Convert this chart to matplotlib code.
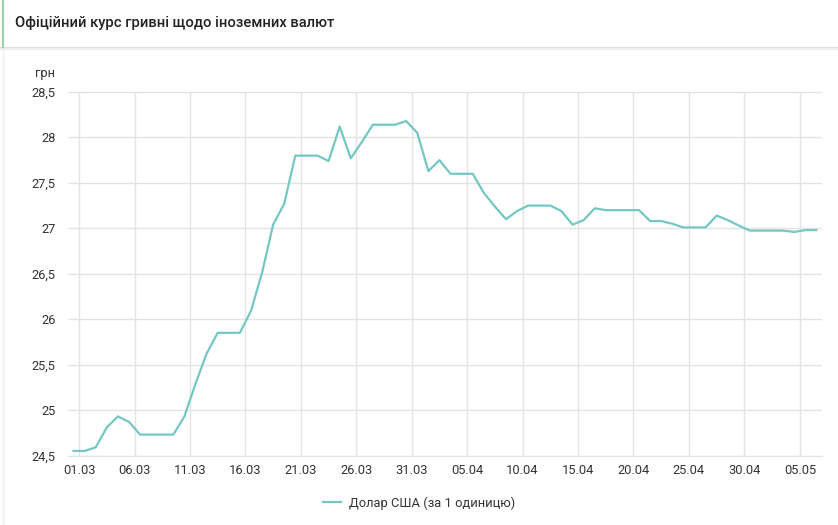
import matplotlib
matplotlib.use("Agg")
import matplotlib.pyplot as plt
from matplotlib.lines import Line2D
import pandas as pd

plt.rcParams['font.family'] = ['Roboto', 'DejaVu Sans']

title = "Офіційний курс гривні щодо іноземних валют"
unit_label = "грн"
series_name = "Долар США (за 1 одиницю)"

start_date = "2020-02-29"
usd_rate = [
    24.55, 24.55, 24.59, 24.81, 24.93, 24.87, 24.73, 24.73, 24.73, 24.73,
    24.93, 25.29, 25.62, 25.85, 25.85, 25.85, 26.09, 26.51, 27.04, 27.27,
    27.80, 27.80, 27.80, 27.74, 28.12, 27.77, 27.95, 28.14, 28.14, 28.14,
    28.18, 28.05, 27.63, 27.75, 27.60, 27.60, 27.60, 27.39, 27.24, 27.10,
    27.19, 27.25, 27.25, 27.25, 27.19, 27.04, 27.09, 27.22, 27.20, 27.20,
    27.20, 27.20, 27.08, 27.08, 27.05, 27.01, 27.01, 27.01, 27.14, 27.09,
    27.03, 26.975, 26.975, 26.975, 26.975, 26.96, 26.98, 26.98,
]
y_ticks = [24.5, 25, 25.5, 26, 26.5, 27, 27.5, 28, 28.5]
y_tick_labels = ["24,5", "25", "25,5", "26", "26,5", "27", "27,5", "28", "28,5"]
x_tick_dates = ["2020-03-01", "2020-03-06", "2020-03-11", "2020-03-16", "2020-03-21",
                "2020-03-26", "2020-03-31", "2020-04-05", "2020-04-10", "2020-04-15",
                "2020-04-20", "2020-04-25", "2020-04-30", "2020-05-05"]
x_tick_labels = ["01.03", "06.03", "11.03", "16.03", "21.03", "26.03", "31.03",
                 "05.04", "10.04", "15.04", "20.04", "25.04", "30.04", "05.05"]

dates = pd.date_range(start_date, periods=len(usd_rate), freq="D") + pd.Timedelta(hours=12)

W, H = 838, 525
fig = plt.figure(figsize=(W / 100, H / 100), dpi=100)
fig.patch.set_facecolor("white")

# header
fig.add_artist(Line2D([0, 1], [1 - 47.5 / H, 1 - 47.5 / H], transform=fig.transFigure,
                      color="#d8d8d8", lw=1.2))
fig.add_artist(Line2D([0, 1], [1 - 49 / H, 1 - 49 / H], transform=fig.transFigure,
                      color="#eeeeee", lw=1.5))
fig.add_artist(Line2D([2.5 / W, 2.5 / W], [1, 1 - 47 / H], transform=fig.transFigure,
                      color="#9ed3a8", lw=1.6))
fig.add_artist(Line2D([2.5 / W, 2.5 / W], [1 - 50 / H, 0], transform=fig.transFigure,
                      color="#efefef", lw=1.0))
fig.text(15 / W, 1 - 23.5 / H, title, fontsize=10.6, fontweight="medium",
         color="#222222", ha="left", va="center")

ax = fig.add_axes([68 / W, 1 - 455.5 / H, (822 - 68) / W, (455.5 - 92) / H])
line, = ax.plot(dates, usd_rate, color="#74c7c2", lw=1.6, solid_joinstyle="round")

ax.set_ylim(24.5, 28.5)
ax.set_xlim(pd.Timestamp("2020-02-29"), pd.Timestamp("2020-05-07"))
ax.set_yticks(y_ticks)
ax.set_yticklabels(y_tick_labels)
ax.set_xticks(pd.to_datetime(x_tick_dates))
ax.set_xticklabels(x_tick_labels)
ax.tick_params(axis="both", length=0, labelsize=9.3, colors="#333333")
ax.tick_params(axis="y", pad=9)
ax.tick_params(axis="x", pad=6)
ax.grid(True, color="#e3e3e3", lw=1.0)
ax.set_axisbelow(True)
for s in ["top", "right", "left"]:
    ax.spines[s].set_visible(False)
ax.spines["bottom"].set_color("#e3e3e3")

fig.text(35 / W, 1 - 73 / H, unit_label, fontsize=9.3, color="#333333",
         ha="left", va="center")

fig.legend([line], [series_name], loc="center", bbox_to_anchor=(0.5, 1 - 503 / H),
           frameon=False, fontsize=9.3, handlelength=1.4, handletextpad=0.6,
           labelcolor="#333333")

fig.savefig("out.png", dpi=100, facecolor="white")
